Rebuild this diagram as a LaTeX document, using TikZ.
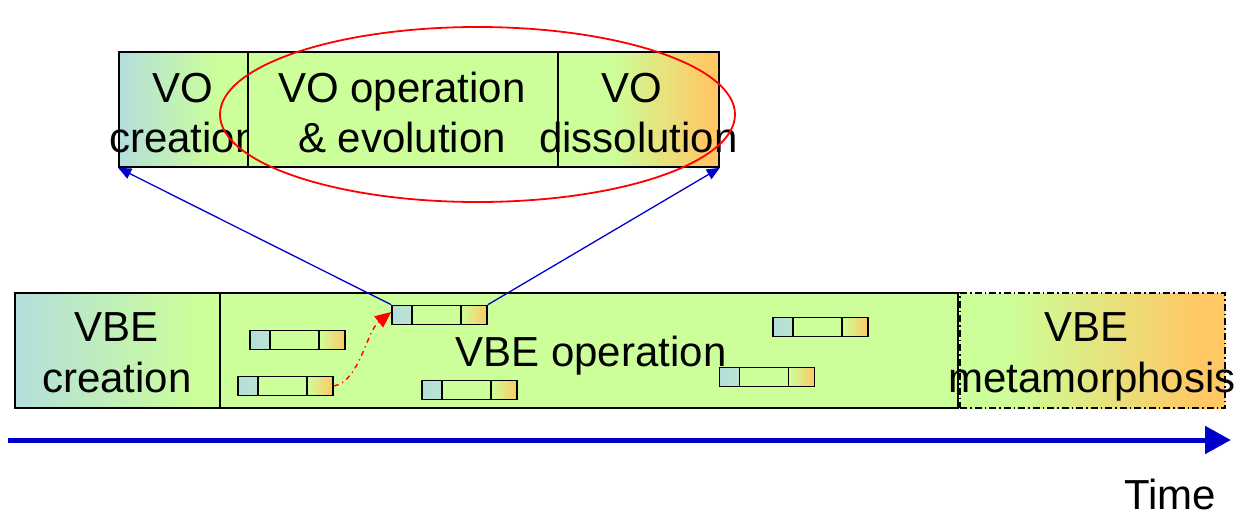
\documentclass[tikz,border=0pt]{standalone}
\usepackage{fontspec}
\setmainfont{Liberation Sans}
\usetikzlibrary{arrows.meta,shapes.geometric}
\definecolor{vogreen}{HTML}{CCFF99}
\definecolor{voblue}{HTML}{B4DEDC}
\definecolor{voorange}{HTML}{FFC864}
\definecolor{vblue}{HTML}{0000CC}
\pgfdeclarehorizontalshading{btog}{100bp}{color(0bp)=(voblue); color(25bp)=(voblue); color(64bp)=(vogreen); color(100bp)=(vogreen)}
\pgfdeclarehorizontalshading{btogb}{100bp}{color(0bp)=(voblue); color(25bp)=(voblue); color(70bp)=(vogreen); color(100bp)=(vogreen)}
\pgfdeclarehorizontalshading{gtoo}{100bp}{color(0bp)=(vogreen); color(42bp)=(vogreen); color(72bp)=(voorange); color(100bp)=(voorange)}
\pgfdeclarehorizontalshading{gtoob}{100bp}{color(0bp)=(vogreen); color(34bp)=(vogreen); color(70bp)=(voorange); color(100bp)=(voorange)}
\begin{document}
\begin{tikzpicture}[x=1pt,y=-1pt,
  cell/.style={draw, line width=1.6pt, inner sep=0pt, minimum height=115pt},
  txt/.style={font=\fontsize{42pt}{50pt}\selectfont, anchor=base, inner sep=0pt},
  sbox/.style={draw, line width=1.6pt, fill=vogreen, minimum width=95pt, minimum height=19pt, inner sep=0pt,
    path picture={
      \shade[left color=voblue,right color=vogreen] (path picture bounding box.south west) rectangle ([xshift=20pt]path picture bounding box.north west);
      \shade[left color=vogreen,right color=voorange] ([xshift=-26pt]path picture bounding box.south east) rectangle (path picture bounding box.north east);
      \draw[line width=1.6pt] ([xshift=20pt]path picture bounding box.south west) -- ([xshift=20pt]path picture bounding box.north west);
      \draw[line width=1.6pt] ([xshift=-26pt]path picture bounding box.south east) -- ([xshift=-26pt]path picture bounding box.north east);
    }},
  link/.style={vblue, line width=1.3pt, -{Triangle[length=13pt,width=11pt]}},
  hop/.style={red, line width=1.4pt, dash pattern=on 5pt off 4pt on 1.2pt off 4pt, -{Triangle[length=16pt,width=14pt]}},
  timeline/.style={vblue, line width=5pt, -{Triangle[length=26pt,width=27pt]}}
]
\useasboundingbox (0,0) rectangle (1240,517);

% top: VO life cycle
\node[cell, shading=btog, minimum width=129pt] (vc) at (183.5,109.5) {};
\node[txt] (vc1) at (183,102) {VO};
\node[txt] (vc2) at (184,152) {creation};
\node[cell, fill=vogreen, minimum width=310pt] (vo) at (403,109.5) {};
\node[txt] (vo1) at (402,102) {VO operation};
\node[txt] (vo2) at (402,152) {\& evolution};
\node[cell, shading=gtoo, minimum width=161pt] (vd) at (638.5,109.5) {};
\node[txt] (vd1) at (632,102) {VO};
\node[txt] (vd2) at (638.5,152) {dissolution};

% bottom: VBE life cycle
\node[cell, shading=btogb, minimum width=205pt] (bc) at (117.5,350.5) {};
\node[txt] (bc1) at (116.5,341) {VBE};
\node[txt] (bc2) at (117,392) {creation};
\node[cell, fill=vogreen, minimum width=738pt] (bo) at (589,350.5) {};
\node[txt] (bo1) at (591,366) {VBE operation};
\node[cell, shading=gtoob, minimum width=265pt, dash pattern=on 7pt off 3pt on 1.5pt off 3pt] (bm) at (1092.5,350.5) {};
\node[txt] (bm1) at (1086.5,341) {VBE};
\node[txt] (bm2) at (1092,392) {metamorphosis};

% small VO boxes
\node[sbox] (b1) at (297.5,340) {};
\node[sbox] (b2) at (285.5,386) {};
\node[sbox] (b3) at (439.5,315) {};
\node[sbox] (b4) at (469.5,390) {};
\node[sbox] (b5) at (820.5,327) {};
\node[sbox] (b6) at (767,377) {};

% connectors
\draw[link] (b3.north west) -- (vc.south west);
\draw[link] (b3.north east) -- (vd.south east);
\draw[hop] (b2.east) .. controls (360,381) and (366,332) .. ([yshift=3pt]b3.west);

% ellipse
\node[ellipse, draw=red, line width=1.8pt, minimum width=515pt, minimum height=175pt, inner sep=0pt] (el) at (477.5,114.5) {};

% time axis
\coordinate (ts) at (8,440);
\coordinate (te) at (1231,440);
\draw[timeline] (ts) -- (te);
\node[txt] (time) at (1170,509) {Time};
\end{tikzpicture}
\end{document}
